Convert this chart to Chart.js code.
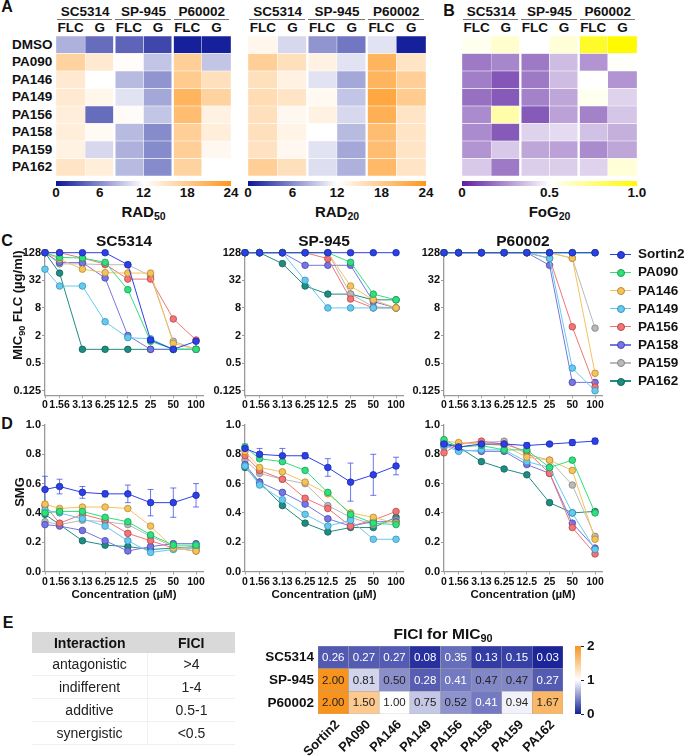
<!DOCTYPE html>
<html>
<head>
<meta charset="utf-8">
<script src="https://cdn.jsdelivr.net/npm/chart.js@4.4.1/dist/chart.umd.min.js"></script>
<style>
body { margin: 0; width: 684px; height: 756px; position: relative; background: #fff; overflow: hidden;
       font-family: "Liberation Sans", Arial, sans-serif; color: #111; }
.t { position: absolute; white-space: nowrap; line-height: 1; }
.t sub { font-size: 70%; vertical-align: -0.25em; }
canvas { position: absolute; }
.bar { position: absolute; }
table.key { position: absolute; left: 32px; top: 632px; width: 203px; border-collapse: collapse; font-size: 14px; }
table.key th { background: #d9d9d9; font-weight: bold; height: 21px; padding: 0; }
table.key td { height: 22px; padding: 0; text-align: center; border-bottom: 1px solid #f0f0f0; color: #222; }
table.key td:first-child { width: 115px; border-right: 1px solid #f0f0f0; }
</style>
</head>
<body>
<script>
// heatmap rows / columns
const rowNames = ["DMSO", "PA090", "PA146", "PA149", "PA156", "PA158", "PA159", "PA162"]
const strains = ["SC5314", "SP-945", "P60002"]
const treatments = ["FLC", "G"]

// columns: SC5314 FLC, SC5314 G, SP-945 FLC, SP-945 G, P60002 FLC, P60002 G
const rad50 = [
    [8, 4.5, 4, 2.5, 0.5, 0.5],
    [17, 14.5, 12.3, 9, 17.5, 9],
    [14.5, 12, 8.5, 6.5, 18, 15.5],
    [14.5, 13, 10.5, 7.5, 20.5, 17],
    [14, 4.5, 12.5, 9, 19.5, 13.5],
    [14, 12.6, 8.5, 6, 17.5, 14],
    [13.5, 10, 8, 6, 17.5, 12.8],
    [15, 14, 8.5, 6, 17, 12]
]
const rad20 = [
    [13, 10, 6.5, 5, 10.5, 0.5],
    [17.5, 15.5, 13.5, 10.5, 20.5, 15],
    [15.5, 13.5, 10.5, 7.5, 20.5, 17.5],
    [16, 15, 12.7, 9, 22, 18],
    [15.5, 12.8, 13.5, 10, 21, 15],
    [15.5, 13.3, 12, 8.5, 19.5, 15],
    [15.3, 12.8, 10.5, 7.5, 19.5, 15],
    [17.5, 15.5, 10.3, 8, 20, 15]
]
const fog20 = [
    [0.53, 0.6, 0.5, 0.58, 0.92, 1.0],
    [0.2, 0.23, 0.2, 0.35, 0.26, 0.51],
    [0.21, 0.12, 0.2, 0.35, 0.5, 0.26],
    [0.18, 0.13, 0.22, 0.3, 0.53, 0.4],
    [0.24, 0.67, 0.13, 0.29, 0.22, 0.37],
    [0.24, 0.13, 0.4, 0.42, 0.36, 0.32],
    [0.26, 0.38, 0.3, 0.29, 0.24, 0.3],
    [0.38, 0.2, 0.39, 0.39, 0.4, 0.58]
]
const radTicks = [0, 6, 12, 18, 24]
const fogTicks = ["0", "0.5", "1.0"]

// curves
const concentrations = [0, 1.56, 3.13, 6.25, 12.5, 25, 50, 100]
const drugNames = ["Sortin2", "PA090", "PA146", "PA149", "PA156", "PA158", "PA159", "PA162"]
const micTicks = [0.125, 0.5, 2, 8, 32, 128]

const micSC5314 = [
    [128, 128, 128, 128, 70, 1.6, 1, 1.5],
    [128, 101, 98, 79, 20, 1.5, 1, 1],
    [128, 93, 56, 47, 46, 46, 1.35, 1],
    [56, 24, 24, 4, 1.8, 1.7, 1, 1],
    [128, 128, 98, 72, 34, 34, 4.6, 1.6],
    [128, 78, 78, 36, 2, 1, 1, 1],
    [128, 73, 73, 70, 70, 40, 1.5, 1],
    [128, 46, 1, 1, 1, 1, 1, 1]
]
const micSP945 = [
    [128, 128, 128, 128, 128, 128, 128, 128],
    [128, 128, 128, 128, 128, 79, 16, 12],
    [128, 128, 128, 128, 128, 24, 12, 8],
    [128, 128, 128, 32, 8, 8, 8, 8],
    [128, 128, 128, 128, 95, 12.5, 8, 8],
    [128, 128, 128, 68, 68, 68, 11, 8],
    [128, 128, 128, 128, 128, 16, 8.5, 8],
    [128, 128, 74, 24, 16, 16, 12, 12]
]
const micP60002 = [
    [128, 128, 128, 128, 128, 128, 128, 128],
    [128, 128, 128, 128, 128, 128, 128, 128],
    [128, 128, 128, 128, 128, 128, 97, 0.3],
    [128, 128, 128, 128, 128, 96, 0.39, 0.125],
    [128, 128, 128, 128, 128, 97, 3.1, 0.15],
    [128, 128, 128, 128, 128, 68, 0.19, 0.19],
    [128, 128, 128, 128, 128, 128, 97, 2.9],
    [128, 128, 128, 128, 128, 128, 128, 128]
]

const smgSC5314 = [
    [0.56, 0.58, 0.54, 0.53, 0.53, 0.47, 0.47, 0.52],
    [0.40, 0.41, 0.41, 0.37, 0.34, 0.25, 0.18, 0.18],
    [0.46, 0.43, 0.44, 0.44, 0.43, 0.31, 0.16, 0.14],
    [0.42, 0.40, 0.36, 0.31, 0.21, 0.13, 0.15, 0.16],
    [0.45, 0.33, 0.39, 0.35, 0.26, 0.21, 0.16, 0.14],
    [0.32, 0.31, 0.28, 0.21, 0.14, 0.17, 0.19, 0.19],
    [0.34, 0.32, 0.35, 0.34, 0.32, 0.24, 0.17, 0.16],
    [0.39, 0.32, 0.21, 0.18, 0.17, 0.15, 0.16, 0.17]
]
const smgSP945 = [
    [0.84, 0.80, 0.79, 0.79, 0.71, 0.61, 0.66, 0.72],
    [0.85, 0.77, 0.75, 0.69, 0.54, 0.39, 0.33, 0.32],
    [0.82, 0.71, 0.68, 0.61, 0.53, 0.40, 0.37, 0.33],
    [0.72, 0.59, 0.49, 0.39, 0.31, 0.35, 0.22, 0.22],
    [0.79, 0.69, 0.63, 0.50, 0.43, 0.31, 0.35, 0.41],
    [0.73, 0.61, 0.54, 0.46, 0.36, 0.31, 0.34, 0.34],
    [0.76, 0.67, 0.63, 0.60, 0.45, 0.37, 0.32, 0.35],
    [0.71, 0.61, 0.45, 0.33, 0.27, 0.30, 0.30, 0.37]
]
const smgP60002 = [
    [0.87, 0.85, 0.87, 0.87, 0.86, 0.87, 0.88, 0.89],
    [0.90, 0.85, 0.86, 0.83, 0.83, 0.71, 0.76, 0.40],
    [0.89, 0.88, 0.87, 0.86, 0.78, 0.76, 0.69, 0.22],
    [0.86, 0.82, 0.83, 0.83, 0.75, 0.71, 0.40, 0.15],
    [0.81, 0.87, 0.89, 0.87, 0.82, 0.67, 0.30, 0.12],
    [0.87, 0.83, 0.82, 0.82, 0.73, 0.67, 0.33, 0.16],
    [0.85, 0.87, 0.88, 0.89, 0.80, 0.76, 0.59, 0.24],
    [0.88, 0.85, 0.75, 0.70, 0.66, 0.47, 0.40, 0.41]
]
// error bars (Sortin2 only)
const smgErrSC5314 = [0.09, 0.05, 0.04, 0.02, 0.06, 0.09, 0.1, 0.08]
const smgErrSP945 = [0.03, 0.04, 0.05, 0.02, 0.06, 0.13, 0.14, 0.06]
const smgErrP60002 = [0.04, 0.02, 0.02, 0.03, 0.02, 0.01, 0.02, 0.02]

// FICI
const ficiSC5314 = [0.26, 0.27, 0.27, 0.08, 0.35, 0.13, 0.15, 0.03]
const ficiSP945 = [2.00, 0.81, 0.50, 0.28, 0.41, 0.47, 0.47, 0.27]
const ficiP60002 = [2.00, 1.50, 1.00, 0.75, 0.52, 0.41, 0.94, 1.67]
const interactions = ["antagonistic", "indifferent", "additive", "synergistic"]
const ficiRanges = [">4", "1-4", "0.5-1", "<0.5"]

const drugColors = ["#2d3fe8", "#2fe07c", "#f5c25c", "#66caf0", "#f27474", "#7676e2", "#b9b9b9", "#1f8c80"]
const drugEdges = ["#1b2aa6", "#18a055", "#b88a2c", "#3a92b5", "#b54848", "#4646ad", "#858585", "#13625a"]

Chart.defaults.font.family = '"Liberation Sans", Arial, sans-serif'
Chart.defaults.color = "#111"

function label(html, x, y, opts = {}) {
    const el = document.createElement("div")
    el.className = "t"
    el.innerHTML = html
    el.style.left = x + "px"
    el.style.top = y + "px"
    el.style.fontSize = (opts.size || 13) + "px"
    el.style.fontWeight = opts.weight || "bold"
    if (opts.color) el.style.color = opts.color
    const tx = opts.align === "right" ? "-100%" : opts.align === "left" ? "0" : "-50%"
    let tf = `translate(${tx},-50%)`
    if (opts.rotate) {
        tf += ` rotate(${opts.rotate}deg)`
        if (opts.align === "right") el.style.transformOrigin = "100% 50%"
    }
    el.style.transform = tf
    document.body.appendChild(el)
    return el
}

function box(x, y, w, h, bg) {
    const el = document.createElement("div")
    el.className = "bar"
    Object.assign(el.style, { left: x + "px", top: y + "px", width: w + "px", height: h + "px", background: bg })
    document.body.appendChild(el)
}

function mkCanvas(left, top, w, h) {
    const c = document.createElement("canvas")
    c.width = w
    c.height = h
    c.style.left = left + "px"
    c.style.top = top + "px"
    document.body.appendChild(c)
    return c
}

function diverging(lo, mid, hi, min, max) {
    const center = (min + max) / 2
    return (v) => {
        let a = mid, b = hi, t = (v - center) / (max - center)
        if (v <= center) { a = lo; b = mid; t = (v - min) / (center - min) }
        t = Math.max(0, Math.min(1, t))
        return `rgb(${a.map((c, i) => Math.round(c + (b[i] - c) * t)).join(",")})`
    }
}

const BLUE = [12, 22, 150], WHITE = [255, 255, 255], ORANGE = [255, 150, 28]
const PURPLE = [92, 32, 160], YELLOW = [255, 250, 0]
const radColor = diverging(BLUE, WHITE, ORANGE, 0, 24)
const fogColor = diverging(PURPLE, WHITE, YELLOW, 0, 1)
const ficiColor = diverging([20, 30, 150], WHITE, [248, 148, 30], 0, 2)

const cellText = {
    id: "cellText",
    afterDatasetsDraw(chart) {
        const ctx = chart.ctx
        ctx.save()
        ctx.font = '11.5px "Liberation Sans", Arial, sans-serif'
        ctx.textAlign = "center"
        ctx.textBaseline = "middle"
        chart.data.datasets.forEach((ds, i) => {
            if (!ds.values) return
            chart.getDatasetMeta(i).data.forEach((bar, j) => {
                const p = bar.getProps(["x", "y", "base"], true)
                ctx.fillStyle = ds.values[j] < 0.45 ? "#fff" : "#222"
                ctx.fillText(ds.values[j].toFixed(2), p.x, (p.y + p.base) / 2 + 0.5)
            })
        })
        ctx.restore()
    }
}

// a heatmap drawn as stacked bars, one dataset per row (bottom row first)
function heatmap(left, top, w, h, rows, colorFn, opts = {}) {
    const canvas = mkCanvas(left, top, w, h)
    const nCols = rows[0].length
    const grouped = opts.grouped !== false
    const datasets = rows.slice().reverse().map((row) => ({
        data: row.map(() => 1),
        values: opts.showValues ? row : null,
        backgroundColor: row.map(colorFn),
        borderColor: opts.border || "#fff",
        borderWidth: row.map((_, c) => ({
            top: 0.5, bottom: 0.5,
            left: grouped && c % 2 === 0 && c > 0 ? 1.5 : 0.5,
            right: grouped && c % 2 === 1 && c < nCols - 1 ? 1.5 : 0.5
        })),
        borderSkipped: false,
        barPercentage: 1,
        categoryPercentage: 1
    }))
    new Chart(canvas, {
        type: "bar",
        data: { labels: rows[0].map((_, i) => i), datasets },
        options: {
            responsive: false,
            animation: false,
            layout: { padding: 0 },
            plugins: { legend: { display: false }, tooltip: { enabled: false } },
            scales: {
                x: { display: false, stacked: true },
                y: { display: false, stacked: true, min: 0, max: rows.length }
            }
        },
        plugins: [cellText]
    })
}

function heatPanel(left, w, rows, colorFn, bar, ticks, title) {
    const top = 36, h = 140
    heatmap(left, top, w, h, rows, colorFn)
    const colW = w / 6
    strains.forEach((s, g) => {
        const x0 = left + g * 2 * colW
        label(s, x0 + colW, 12, { size: 13.5 })
        box(x0 + 1, 19, colW * 2 - 3, 1, "#777")
        treatments.forEach((t, k) => label(t, x0 + (k + 0.5) * colW, 28, { size: 13.5 }))
    })
    box(left, 181, w, 5, bar)
    ticks.forEach((t, i) => label(String(t), left + (w * i) / (ticks.length - 1), 193, { size: 13.5 }))
    label(title, left + w / 2, 213, { size: 15 })
}

// panel letters
label("A", 7, 7, { size: 16 })
label("B", 449, 11, { size: 16 })
label("C", 7, 241, { size: 16 })
label("D", 7, 424, { size: 16 })
label("E", 8, 623, { size: 16 })

// panel A / B
rowNames.forEach((r, i) => label(r, 12, 36 + (i + 0.5) * 17.5, { size: 13.5, align: "left" }))
const radBar = `linear-gradient(to right, ${radColor(0)}, #fff 50%, ${radColor(24)})`
heatPanel(56, 175, rad50, radColor, radBar, radTicks, "RAD<sub>50</sub>")
heatPanel(248, 178, rad20, radColor, radBar, radTicks, "RAD<sub>20</sub>")
heatPanel(462, 175, fog20, fogColor, `linear-gradient(to right, ${fogColor(0)}, #fff 50%, ${fogColor(1)})`, fogTicks, "FoG<sub>20</sub>")

// curves
const PLOT_W = 158
const X_MAX = 6.95
const xPos = (c) => (c > 0 ? Math.log2(c) : 0)
const tickFont = { size: 11, weight: "bold" }
const axisGrid = { drawOnChartArea: false, color: "#9a9a9a", tickLength: 3 }
const axisBorder = { color: "#9a9a9a", width: 1.3 }

const errorBars = {
    id: "errorBars",
    beforeDatasetsDraw(chart) {
        const { ctx, scales: { y } } = chart
        chart.data.datasets.forEach((ds, i) => {
            if (!ds.errors) return
            ctx.save()
            ctx.strokeStyle = ds.borderColor
            ctx.globalAlpha = 0.7
            ctx.lineWidth = 1
            chart.getDatasetMeta(i).data.forEach((pt, j) => {
                const v = ds.data[j].y, e = ds.errors[j]
                const y1 = y.getPixelForValue(v + e), y2 = y.getPixelForValue(v - e)
                ctx.beginPath()
                ctx.moveTo(pt.x, y1); ctx.lineTo(pt.x, y2)
                ctx.moveTo(pt.x - 3, y1); ctx.lineTo(pt.x + 3, y1)
                ctx.moveTo(pt.x - 3, y2); ctx.lineTo(pt.x + 3, y2)
                ctx.stroke()
            })
            ctx.restore()
        })
    }
}

const micAxis = {
    type: "logarithmic", min: 0.1, max: 128,
    afterBuildTicks: (s) => { s.ticks = micTicks.map((v) => ({ value: v })) },
    ticks: { callback: (v) => String(v), font: tickFont, padding: 1, autoSkip: false },
    grid: axisGrid, border: axisBorder
}
const smgAxis = {
    type: "linear", min: 0, max: 1,
    ticks: { stepSize: 0.2, callback: (v) => v.toFixed(1), font: tickFont, padding: 1 },
    grid: axisGrid, border: axisBorder
}

function curveChart(o) {
    const canvas = mkCanvas(o.left, o.top, o.width, o.height)
    const plotRight = o.axisX + PLOT_W
    const datasets = drugNames.map((name, i) => ({
        label: name,
        data: concentrations.map((c, j) => ({ x: xPos(c), y: o.values[i][j] })),
        borderColor: drugColors[i],
        backgroundColor: drugColors[i],
        pointBorderColor: drugEdges[i],
        pointBorderWidth: 0.8,
        pointRadius: 3.3,
        borderWidth: 1,
        clip: false,
        errors: o.errors ? o.errors[i] : undefined
    }))
    new Chart(canvas, {
        type: "line",
        data: { datasets },
        options: {
            responsive: false,
            animation: false,
            layout: { padding: { left: 0, top: o.plotTop - o.top, right: o.left + o.width - plotRight, bottom: 0 } },
            plugins: { legend: { display: false }, tooltip: { enabled: false } },
            scales: {
                x: {
                    type: "linear", min: 0, max: X_MAX,
                    afterBuildTicks: (s) => { s.ticks = concentrations.map((c) => ({ value: xPos(c) })) },
                    ticks: { callback: (v, i) => String(concentrations[i]), font: { size: 10.5, weight: "bold" }, maxRotation: 0, autoSkip: false, padding: 1 },
                    grid: axisGrid, border: axisBorder,
                    afterFit: (s) => { s.height = o.top + o.height - o.plotBottom }
                },
                y: { ...o.yAxis, afterFit: (s) => { s.width = o.axisX - o.left } }
            }
        },
        plugins: [errorBars]
    })
    label(o.title || "", o.axisX + PLOT_W / 2, o.top - 3, { size: 15.5 })
}

const micCharts = [micSC5314, micSP945, micP60002]
const smgCharts = [smgSC5314, smgSP945, smgP60002]
const smgErrs = [smgErrSC5314, smgErrSP945, smgErrP60002]
const axisXs = [45, 245, 444]
strains.forEach((s, k) => {
    curveChart({ left: axisXs[k] - 45, top: 244, width: 213, height: 176, axisX: axisXs[k],
        plotTop: 252.7, plotBottom: 395.2, yAxis: micAxis, values: micCharts[k], title: s })
    curveChart({ left: axisXs[k] - 45, top: 417, width: 213, height: 173, axisX: axisXs[k],
        plotTop: 425, plotBottom: 571.5, yAxis: smgAxis, values: smgCharts[k], errors: [smgErrs[k]] })
    label("Concentration (µM)", axisXs[k] + PLOT_W / 2, 595, { size: 11.5 })
})
label("MIC<sub>90</sub> FLC (µg/ml)", 19, 305, { size: 13, rotate: -90 })
label("SMG", 19, 492, { size: 13, rotate: -90 })

// legend
drugNames.forEach((name, i) => {
    const y = 254.3 + i * 18.1
    box(610, y - 0.75, 21, 1.5, drugColors[i])
    const dot = document.createElement("div")
    dot.className = "bar"
    Object.assign(dot.style, { left: "617px", top: y - 3.5 + "px", width: "6px", height: "6px", borderRadius: "50%",
        background: drugColors[i], border: "0.8px solid " + drugEdges[i] })
    document.body.appendChild(dot)
    label(name, 638, y, { size: 13.5, align: "left" })
})

// panel E: table
const table = document.createElement("table")
table.className = "key"
table.innerHTML = "<tr><th>Interaction</th><th>FICI</th></tr>" +
    interactions.map((s, i) => `<tr><td>${s}</td><td>${ficiRanges[i]}</td></tr>`).join("")
document.body.appendChild(table)

// panel E: FICI heatmap
const ficiRows = [ficiSC5314, ficiSP945, ficiP60002]
heatmap(318, 646, 245, 68, ficiRows, ficiColor, { grouped: false, border: "#a0a0a0", showValues: true })
label("FICI for MIC<sub>90</sub>", 443, 635, { size: 15.5 })
strains.forEach((s, i) => label(s, 314, 646 + (i + 0.5) * 22.67, { size: 13.5, align: "right" }))
drugNames.forEach((d, i) => label(d, 318 + (i + 0.5) * 30.6 + 4, 722, { size: 13, align: "right", rotate: -45 }))
box(575, 646, 6, 68, `linear-gradient(to top, ${ficiColor(0)}, #fff 50%, ${ficiColor(2)})`)
;["2", "1", "0"].forEach((t, i) => {
    box(581, 646 + i * 34 - 0.5, 3, 1, "#222")
    label(t, 587, 646 + i * 34, { size: 13.5, align: "left" })
})
</script>
</body>
</html>
